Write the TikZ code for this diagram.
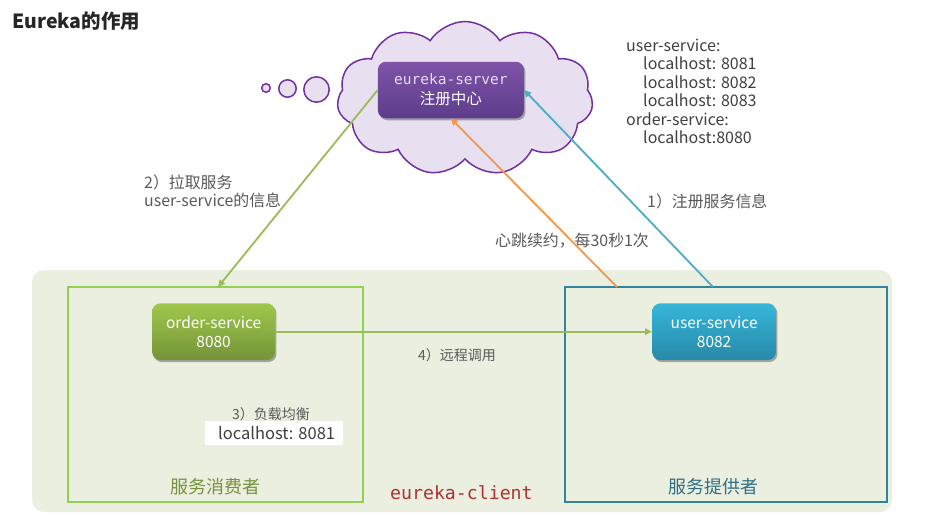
\documentclass[tikz,border=0pt]{standalone}
\usepackage{fontspec}
\setmainfont{Noto Sans CJK SC}
\newfontfamily\monof{DejaVu Sans Mono}
\usetikzlibrary{shapes.symbols,shadows,arrows.meta}
\definecolor{bggreen}{HTML}{EBEFDF}
\definecolor{consline}{HTML}{92D050}
\definecolor{provline}{HTML}{31849B}
\definecolor{cloudfill}{HTML}{E8E0F0}
\definecolor{cloudline}{HTML}{7030A0}
\definecolor{arrgreen}{HTML}{9BBB59}
\definecolor{arrorange}{HTML}{F79646}
\definecolor{arrblue}{HTML}{4BACC6}
\definecolor{txtgray}{HTML}{595959}
\definecolor{listgray}{HTML}{404040}
\definecolor{consname}{HTML}{76923C}
\definecolor{provname}{HTML}{2F6F85}
\definecolor{clientred}{HTML}{B03030}
\definecolor{lavtext}{HTML}{E6DDF2}
\definecolor{purtop}{HTML}{7E53A8}
\definecolor{purbot}{HTML}{5E3C8B}
\definecolor{grntop}{HTML}{A0C74C}
\definecolor{grnbot}{HTML}{739439}
\definecolor{blutop}{HTML}{36B6DA}
\definecolor{blubot}{HTML}{2889A8}
\tikzset{
  svcbox/.style={rectangle, rounded corners=8pt, inner sep=0pt, text=white,
    align=center, font=\fontsize{15.5}{19}\selectfont,
    drop shadow={shadow xshift=1.5pt, shadow yshift=-2pt, opacity=0.45, fill=black!70}},
  conn/.style={line width=1.8pt, -{Triangle[length=7pt,width=6.5pt]}},
  lbl/.style={anchor=base west, inner sep=0pt, text=txtgray, font=\fontsize{15.9}{18}\selectfont},
  smalllbl/.style={anchor=base west, inner sep=0pt, text=txtgray, font=\fontsize{14}{16}\selectfont},
  listtxt/.style={anchor=base west, inner sep=0pt, text=listgray, font=\fontsize{16}{19}\selectfont},
  bubble/.style={draw=cloudline, fill=cloudfill, line width=1.5pt}
}
\begin{document}
\begin{tikzpicture}[x=1pt,y=-1pt]
\useasboundingbox (0,0) rectangle (929,515);
\fill[white] (0,0) rectangle (929,515);

% title
\node[anchor=base west, inner sep=0pt, font=\fontsize{19.5}{22}\selectfont\bfseries, text=black!85] (title) at (12,28) {Eureka的作用};

% client area
\fill[bggreen, rounded corners=12pt] (32,270) rectangle (892,512);
\draw[consline, line width=2pt] (68,287) rectangle (363,502);
\draw[provline, line width=2pt] (565,287) rectangle (887,502);

% cloud and bubbles
\node[cloud, draw=cloudline, fill=cloudfill, line width=1.5pt, cloud puffs=11,
  cloud puff arc=115, cloud ignores aspect, minimum width=256pt, minimum height=154pt,
  inner sep=0pt] (cloud) at (465,98.5) {};
\draw[bubble] (266,88) circle (4.3);
\draw[bubble] (287.5,88.5) circle (8.7);
\draw[bubble] (316.5,89.5) circle (12.7);

% nodes
\node[svcbox, minimum width=146pt, minimum height=56.5pt,
  top color=purtop, bottom color=purbot] (server) at (450.9,90) {};
\node[anchor=base, inner sep=0pt, text=lavtext, font=\monof\fontsize{14.5}{17}\selectfont] (servername) at (450.9,84) {eureka-server};
\node[anchor=base, inner sep=0pt, text=white, font=\fontsize{15.5}{18}\selectfont] (serverrole) at (450.9,104) {注册中心};

\node[svcbox, minimum width=122.7pt, minimum height=56.7pt,
  top color=grntop, bottom color=grnbot] (order) at (213.6,331.7) {order-service\\8080};
\node[svcbox, minimum width=123.7pt, minimum height=56.7pt,
  top color=blutop, bottom color=blubot] (user) at (714.1,331.7) {user-service\\8082};

% connector end points
\coordinate (pullend) at (218,287);
\coordinate (hbstart) at (617,287);
\coordinate (regstart) at (713,287);

% connectors
\draw[conn, arrgreen] (server.west) -- (pullend);
\draw[conn, arrorange] (hbstart) -- (server.south);
\draw[conn, arrblue] (regstart) -- (server.east);
\draw[conn, arrgreen] (order.east) -- (user.west);

% labels
\node[lbl] (pull1) at (144,188) {2）拉取服务};
\node[lbl] (pull2) at (144,206.5) {user-service的信息};
\node[lbl] (reg) at (647,207) {1）注册服务信息};
\node[lbl] (hb) at (495,246) {心跳续约，每30秒1次};
\node[smalllbl] (rpc) at (418,360) {4）远程调用};
\node[smalllbl] (lb) at (232,419) {3）负载均衡};
\fill[white] (205,421) rectangle (343,445);
\node[anchor=base west, inner sep=0pt, text=listgray, font=\fontsize{16.5}{19}\selectfont] (lbhost) at (218,439) {localhost: 8081};

% registry list
\node[listtxt] (l1) at (626,51) {user-service:};
\node[listtxt] (l2) at (643,69.5) {localhost: 8081};
\node[listtxt] (l3) at (643,88) {localhost: 8082};
\node[listtxt] (l4) at (643,106.5) {localhost: 8083};
\node[listtxt] (l5) at (626,125) {order-service:};
\node[listtxt] (l6) at (643,143.5) {localhost:8080};

% box names
\node[anchor=base west, inner sep=0pt, text=consname, font=\fontsize{18}{21}\selectfont] (consumer) at (170,493) {服务消费者};
\node[anchor=base west, inner sep=0pt, text=provname, font=\fontsize{18}{21}\selectfont] (provider) at (668,493) {服务提供者};
\node[anchor=base west, inner sep=0pt, text=clientred, font=\monof\fontsize{18.2}{20}\selectfont] (client) at (390,499) {eureka-client};
\end{tikzpicture}
\end{document}
